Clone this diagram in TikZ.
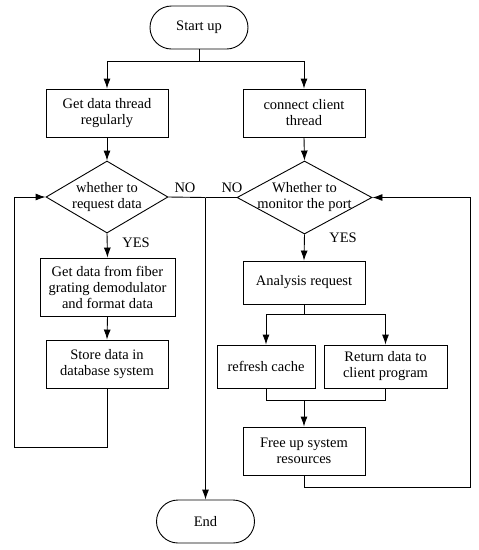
\documentclass[tikz,border=0pt]{standalone}
\usepackage{fontspec}
\setmainfont{Liberation Serif}
\usetikzlibrary{arrows.meta,shapes.geometric}
\begin{document}
\begin{tikzpicture}[x=1pt,y=-1pt,
  line width=0.9pt,
  box/.style={draw, line width=0.9pt, inner sep=0pt, align=center, font=\fontsize{14.5}{16}\selectfont},
  term/.style={box, rounded corners=21.5pt},
  dia/.style={draw, diamond, line width=0.9pt, inner sep=0pt},
  txt/.style={align=center, inner sep=0pt, font=\fontsize{14.5}{16}\selectfont},
  arr/.style={-{Latex[length=10pt,width=7pt]}}
]
\useasboundingbox (0,0) rectangle (479,550);

\node[term, minimum width=98pt, minimum height=43pt] (start) at (199,27.5) {Start up};
\node[box, minimum width=122pt, minimum height=48pt] (b1) at (107,113) {Get data thread\\regularly};
\node[box, minimum width=122pt, minimum height=48pt] (b2) at (304,113) {connect client\\thread};
\node[dia, minimum width=122pt, minimum height=72pt] (d1) at (107,197) {};
\node[txt] (d1t) at (d1) {whether to\\request data};
\node[dia, minimum width=135pt, minimum height=73pt] (d2) at (304.5,197.5) {};
\node[txt] (d2t) at (d2) {Whether to\\monitor the port};
\node[box, minimum width=135pt, minimum height=58pt] (b3) at (107.5,287) {Get data from fiber\\grating demodulator\\and format data};
\node[box, minimum width=122pt, minimum height=48pt] (b4) at (107,364) {Store data in\\database system};
\node[box, minimum width=122pt, minimum height=43pt] (b5) at (304,282.5) {Analysis request};
\node[box, minimum width=98pt, minimum height=43pt] (b6) at (266,366.5) {refresh cache};
\node[box, minimum width=123pt, minimum height=43pt] (b7) at (385.5,366.5) {Return data to\\client program};
\node[box, minimum width=122pt, minimum height=48pt] (b8) at (304,451) {Free up system\\resources};
\node[term, minimum width=98pt, minimum height=43pt] (end) at (205.5,521.5) {End};

\node[txt] (yes1) at (136,243) {YES};
\node[txt] (yes2) at (343,238) {YES};
\node[txt] (no1) at (185,188) {NO};
\node[txt] (no2) at (232,188) {NO};

\coordinate (j1) at (199,61);
\draw (start.south) -- (j1);
\draw[arr] (j1) -| (b1.north);
\draw[arr] (j1) -| (b2.north);
\draw[arr] (b1.south) -- (d1.north);
\draw[arr] (b2.south) -- (d2.north);
\draw[arr] (d1.south) -- (b3.north);
\draw[arr] (b3.south) -- (b4.north);
\coordinate (l1) at (14,447);
\draw[arr] (b4.south) |- (l1) |- (d1.west);

\coordinate (m) at (205.5,197.5);
\draw (d1.east) -- (m);
\draw (d2.west) -- (m);
\draw[arr] (m) -- (end.north);

\draw[arr] (d2.south) -- (b5.north);
\coordinate (r1) at (304,314);
\draw (b5.south) -- (r1);
\draw[arr] (r1) -| (b6.north);
\draw[arr] (r1) -| (b7.north);
\coordinate (r2) at (304,400);
\draw (b6.south) |- (r2);
\draw (b7.south) |- (r2);
\draw[arr] (r2) -- (b8.north);
\coordinate (r3) at (470,487);
\draw[arr] (b8.south) |- (r3) |- (d2.east);
\end{tikzpicture}
\end{document}
